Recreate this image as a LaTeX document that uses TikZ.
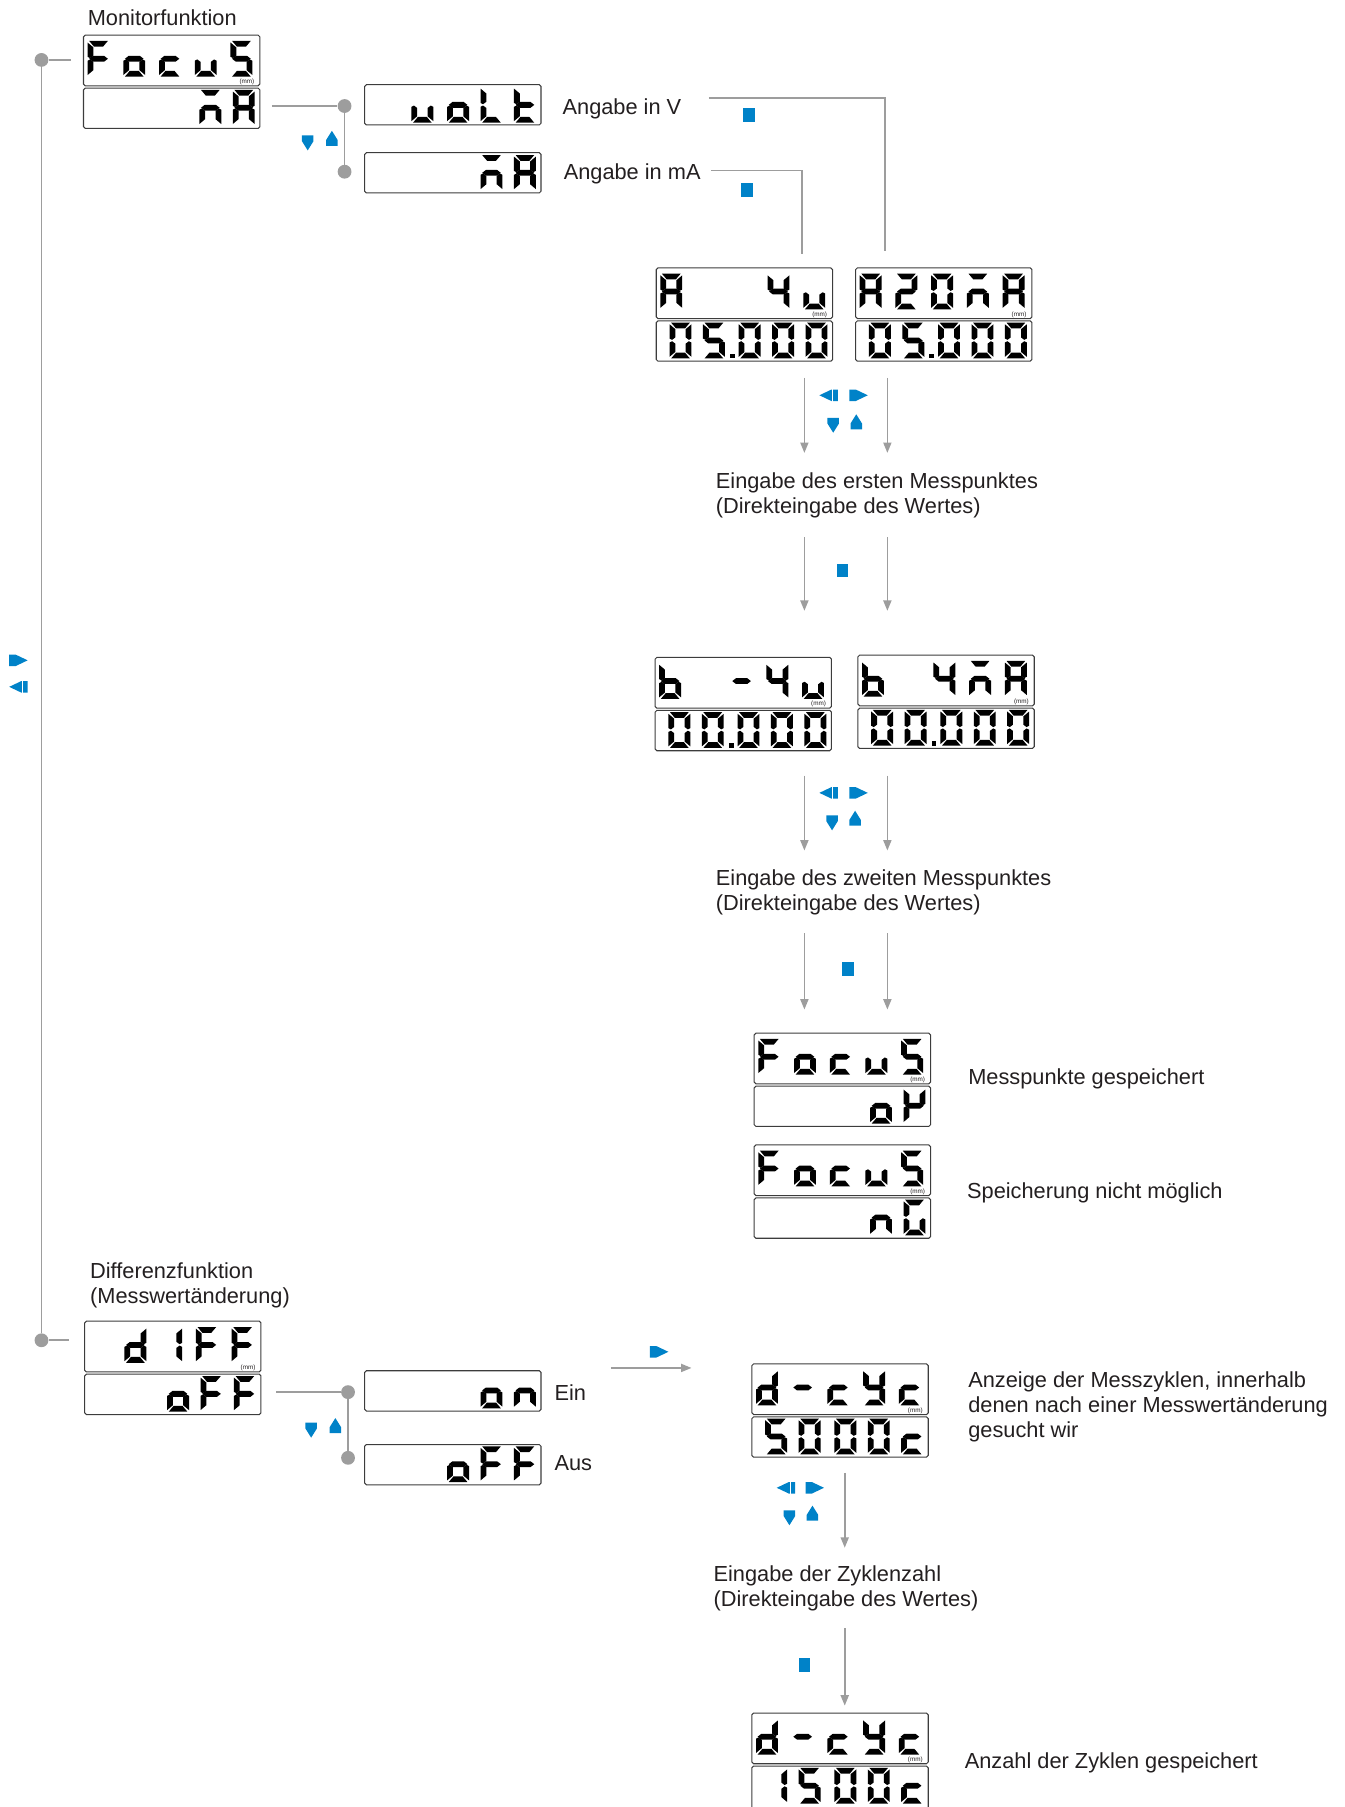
\documentclass[tikz,border=0pt]{standalone}
\usepackage{fontspec}
\setmainfont{Liberation Sans}
\usetikzlibrary{arrows.meta}

\definecolor{linegray}{HTML}{9D9D9D}
\definecolor{keyblue}{HTML}{0082C8}
\definecolor{framegray}{HTML}{3C3C3C}
\definecolor{txt}{HTML}{231F20}

\newcommand\lcdsega{(1.4,0) -- (17.6,0) -- (13.4,5) -- (5.6,5) -- cycle}
\newcommand\lcdsegd{(1.4,31) -- (17.6,31) -- (13.4,26) -- (5.6,26) -- cycle}
\newcommand\lcdsegg{(1.4,15.5) -- (4.6,13) -- (14.4,13) -- (17.6,15.5) -- (14.4,18) -- (4.6,18) -- cycle}
\newcommand\lcdsegf{(0,1.4) -- (5,5.6) -- (5,12.8) -- (2.2,14.9) -- (0,13.8) -- cycle}
\newcommand\lcdsegb{(19,1.4) -- (14,5.6) -- (14,12.8) -- (16.8,14.9) -- (19,13.8) -- cycle}
\newcommand\lcdsege{(0,29.6) -- (5,25.4) -- (5,18.2) -- (2.2,16.1) -- (0,17.2) -- cycle}
\newcommand\lcdsegc{(19,29.6) -- (14,25.4) -- (14,18.2) -- (16.8,16.1) -- (19,17.2) -- cycle}
\newcommand\lcdsegp{(23.5,27) rectangle (27.5,31)}

\newcommand\lcdchars[3]{%
  \begin{scope}[shift={(#1.north west)}]
    \foreach \cx/\segs in {#3} {
      \foreach \s in \segs {
        \expandafter\let\expandafter\segpath\csname lcdseg\s\endcsname
        \fill[lcdseg, shift={(\cx,#2)}] \segpath;
      }
    }
  \end{scope}}

\begin{document}
\begin{tikzpicture}[x=1pt,y=-1pt,
  every node/.style={font=\fontsize{18.9}{21.5}\selectfont, text=txt, inner sep=0pt},
  upbox/.style={draw=framegray, line width=0.9pt, rounded corners=1.5pt,
    minimum width=153pt, minimum height=44pt, anchor=north west,
    label={[anchor=south east, font=\fontsize{5.5}{6}\selectfont, inner sep=1pt, xshift=-4pt]south east:{(mm)}}},
  lowbox/.style={draw=framegray, line width=0.9pt, rounded corners=1.5pt,
    minimum width=153pt, minimum height=35pt, anchor=north west},
  lcdseg/.style={fill=black},
  txtl/.style={anchor=west, align=left},
  dot/.style={circle, fill=linegray, minimum size=12pt},
  conn/.style={draw=linegray, line width=1.4pt},
  flow/.style={conn, -{Triangle[width=7pt,length=9pt]}},
  keyright/.pic={\fill[keyblue] (-8,-5) -- (-2.5,-5) -- (8,0) -- (-2.5,5) -- (-8,5) -- cycle;},
  keyleft/.pic={\fill[keyblue] (8,-5) -- (2.5,-5) -- (-8,0) -- (2.5,5) -- (8,5) -- cycle;
    \draw[white, line width=0.7pt] (3.5,-5.5) -- (3.5,5.5);},
  keydown/.pic={\fill[keyblue] (-5,-6.5) -- (5,-6.5) -- (5,-1.5) -- (0,6.5) -- (-5,-1.5) -- cycle;},
  keyup/.pic={\fill[keyblue] (-5,6.5) -- (5,6.5) -- (5,1.5) -- (0,-6.5) -- (-5,1.5) -- cycle;},
  keyset/.pic={\fill[keyblue] (-5,-6) rectangle (5,6);}]

\useasboundingbox (0,0) rectangle (1167,1568);

\node[txtl] (monlab) at (76,15.5) {Monitorfunktion};
\node[upbox] (monup) at (72,30) {};
\node[lowbox] (monlow) at (72,76) {};
\lcdchars{monup}{5.5}{4/{a,e,f,g},35/{c,d,e,g},66/{d,e,g},97/{c,d,e},128/{a,c,d,f,g}}
\lcdchars{monlow}{2}{101/{a,c,e,g},130/{a,b,c,e,f,g}}

\node[lowbox] (volt) at (316,73) {};
\lcdchars{volt}{2.5}{41/{c,d,e},72/{c,d,e,g},101/{d,e,f},130/{d,e,f,g}}
\node[lowbox] (milli) at (316,132) {};
\lcdchars{milli}{2.5}{101/{a,c,e,g},130/{a,b,c,e,f,g}}
\node[txtl] (angV) at (488,94.5) {Angabe in V};
\node[txtl] (angmA) at (489,150.5) {Angabe in mA};

\node[upbox] (pAvup) at (569,232) {};
\node[lowbox] (pAvlow) at (569,278) {};
\lcdchars{pAvup}{5.5}{4/{a,b,c,e,f,g},97/{b,c,f,g},128/{c,d,e}}
\lcdchars{pAvlow}{2}{12/{a,b,c,d,e,f},41/{a,c,d,f,g,p},72/{a,b,c,d,e,f},101/{a,b,c,d,e,f},130/{a,b,c,d,e,f}}
\node[upbox] (pAmup) at (742,232) {};
\node[lowbox] (pAmlow) at (742,278) {};
\lcdchars{pAmup}{5.5}{4/{a,b,c,e,f,g},35/{a,b,d,e,g},66/{a,b,c,d,e,f},97/{a,c,e,g},128/{a,b,c,e,f,g}}
\lcdchars{pAmlow}{2}{12/{a,b,c,d,e,f},41/{a,c,d,f,g,p},72/{a,b,c,d,e,f},101/{a,b,c,d,e,f},130/{a,b,c,d,e,f}}

\node[txtl] (first) at (621,430) {Eingabe des ersten Messpunktes\\(Direkteingabe des Wertes)};

\node[upbox] (pBvup) at (568,570) {};
\node[lowbox] (pBvlow) at (568,616) {};
\lcdchars{pBvup}{5.5}{4/{c,d,e,f,g},66/{g},97/{b,c,f,g},128/{c,d,e}}
\lcdchars{pBvlow}{2}{12/{a,b,c,d,e,f},41/{a,b,c,d,e,f,p},72/{a,b,c,d,e,f},101/{a,b,c,d,e,f},130/{a,b,c,d,e,f}}
\node[upbox] (pBmup) at (744,568) {};
\node[lowbox] (pBmlow) at (744,614) {};
\lcdchars{pBmup}{5.5}{4/{c,d,e,f,g},66/{b,c,f,g},97/{a,c,e,g},128/{a,b,c,e,f,g}}
\lcdchars{pBmlow}{2}{12/{a,b,c,d,e,f},41/{a,b,c,d,e,f,p},72/{a,b,c,d,e,f},101/{a,b,c,d,e,f},130/{a,b,c,d,e,f}}

\node[txtl] (second) at (621,774.5) {Eingabe des zweiten Messpunktes\\(Direkteingabe des Wertes)};

\node[upbox] (okup) at (654,896) {};
\node[lowbox] (oklow) at (654,942) {};
\lcdchars{okup}{5.5}{4/{a,e,f,g},35/{c,d,e,g},66/{d,e,g},97/{c,d,e},128/{a,c,d,f,g}}
\lcdchars{oklow}{2}{101/{c,d,e,g},130/{b,e,f,g}}
\node[txtl] (saved) at (840,936.5) {Messpunkte gespeichert};
\node[upbox] (ngup) at (654,993) {};
\node[lowbox] (nglow) at (654,1039) {};
\lcdchars{ngup}{5.5}{4/{a,e,f,g},35/{c,d,e,g},66/{d,e,g},97/{c,d,e},128/{a,c,d,f,g}}
\lcdchars{nglow}{2}{101/{c,e,g},130/{a,c,d,e,f}}
\node[txtl] (failed) at (839,1035.5) {Speicherung nicht möglich};

\node[txtl] (difflab) at (78,1115.5) {Differenzfunktion\\(Messwertänderung)};
\node[upbox] (diffup) at (73,1146) {};
\node[lowbox] (difflow) at (73,1192) {};
\lcdchars{diffup}{5.5}{35/{b,c,d,e,g},66/{b,c},97/{a,e,f,g},128/{a,e,f,g}}
\lcdchars{difflow}{2}{72/{c,d,e,g},101/{a,e,f,g},130/{a,e,f,g}}

\node[lowbox] (onbox) at (316,1189) {};
\lcdchars{onbox}{2}{101/{c,d,e,g},130/{c,e,g}}
\node[txtl] (einlab) at (481,1208.5) {Ein};
\node[lowbox] (offbox) at (316,1253) {};
\lcdchars{offbox}{2}{72/{c,d,e,g},101/{a,e,f,g},130/{a,e,f,g}}
\node[txtl] (auslab) at (481,1269.5) {Aus};

\node[upbox] (cycAup) at (652,1183) {};
\node[lowbox] (cycAlow) at (652,1229) {};
\lcdchars{cycAup}{5.5}{4/{b,c,d,e,g},35/{g},66/{d,e,g},97/{b,c,d,f,g},128/{d,e,g}}
\lcdchars{cycAlow}{2}{12/{a,c,d,f,g},41/{a,b,c,d,e,f},72/{a,b,c,d,e,f},101/{a,b,c,d,e,f},130/{d,e,g}}
\node[txtl] (cyclab) at (840,1221) {Anzeige der Messzyklen, innerhalb\\denen nach einer Messwertänderung\\gesucht wir};

\node[txtl] (zyklab) at (619,1378.5) {Eingabe der Zyklenzahl\\(Direkteingabe des Wertes)};

\node[upbox] (cycBup) at (652,1486) {};
\node[lowbox, minimum height=40pt] (cycBlow) at (652,1532) {};
\lcdchars{cycBup}{5.5}{4/{b,c,d,e,g},35/{g},66/{d,e,g},97/{b,c,d,f,g},128/{d,e,g}}
\lcdchars{cycBlow}{2}{12/{b,c},41/{a,c,d,f,g},72/{a,b,c,d,e,f},101/{a,b,c,d,e,f},130/{d,e,g}}
\node[txtl] (countlab) at (837,1529.5) {Anzahl der Zyklen gespeichert};

\node[dot] (mondot) at (36,52) {};
\node[dot] (diffdot) at (36,1163) {};
\node[dot] (voltdot) at (299,92) {};
\node[dot] (millidot) at (299,149) {};
\node[dot] (ondot) at (302,1208) {};
\node[dot] (offdot) at (302,1265) {};

\draw[conn] (mondot) -- (diffdot);
\draw[conn, shorten >=10pt] (mondot) -- (mondot -| monup.west);
\draw[conn, shorten >=13pt] (diffdot) -- (diffdot -| diffup.west);
\draw[conn, shorten <=10pt] (voltdot -| monlow.east) -- (voltdot);
\draw[conn] (voltdot) -- (millidot);
\draw[conn, shorten <=13pt] (ondot -| difflow.east) -- (ondot);
\draw[conn] (ondot) -- (offdot);

\coordinate (vfrom) at (615,85);
\coordinate (vto) at (768,218);
\draw[conn] (vfrom) -| (vto);
\coordinate (mfrom) at (617,148);
\coordinate (mto) at (696,220);
\draw[conn] (mfrom) -| (mto);

\foreach \n/\ya/\yb in {1/328/393,2/466/530,3/673/738,4/810/876} {
  \coordinate (la\n) at (698,\ya);
  \coordinate (lb\n) at (698,\yb);
  \coordinate (ra\n) at (770,\ya);
  \coordinate (rb\n) at (770,\yb);
  \draw[flow] (la\n) -- (lb\n);
  \draw[flow] (ra\n) -- (rb\n);
}
\coordinate (onfrom) at (530,1187);
\coordinate (onto) at (600,1187);
\draw[flow] (onfrom) -- (onto);
\coordinate (cyca) at (733,1278);
\coordinate (cycb) at (733,1343);
\draw[flow] (cyca) -- (cycb);
\coordinate (cycc) at (733,1413);
\coordinate (cycd) at (733,1480);
\draw[flow] (cycc) -- (cycd);

\pic at (267,124) {keydown};
\pic at (288,120) {keyup};
\pic at (650,100) {keyset};
\pic at (648,165) {keyset};
\pic at (719,343) {keyleft};
\pic at (745,343) {keyright};
\pic at (723,369) {keydown};
\pic at (743,366) {keyup};
\pic at (731,495) {keyset};
\pic at (719,688) {keyleft};
\pic at (745,688) {keyright};
\pic at (722,714) {keydown};
\pic at (742,710) {keyup};
\pic at (736,841) {keyset};
\pic at (16,573) {keyright};
\pic at (16,596) {keyleft};
\pic at (270,1241) {keydown};
\pic at (291,1237) {keyup};
\pic at (572,1173) {keyright};
\pic at (682,1291) {keyleft};
\pic at (707,1291) {keyright};
\pic at (685,1317) {keydown};
\pic at (705,1313) {keyup};
\pic at (698,1445) {keyset};
\end{tikzpicture}
\end{document}
